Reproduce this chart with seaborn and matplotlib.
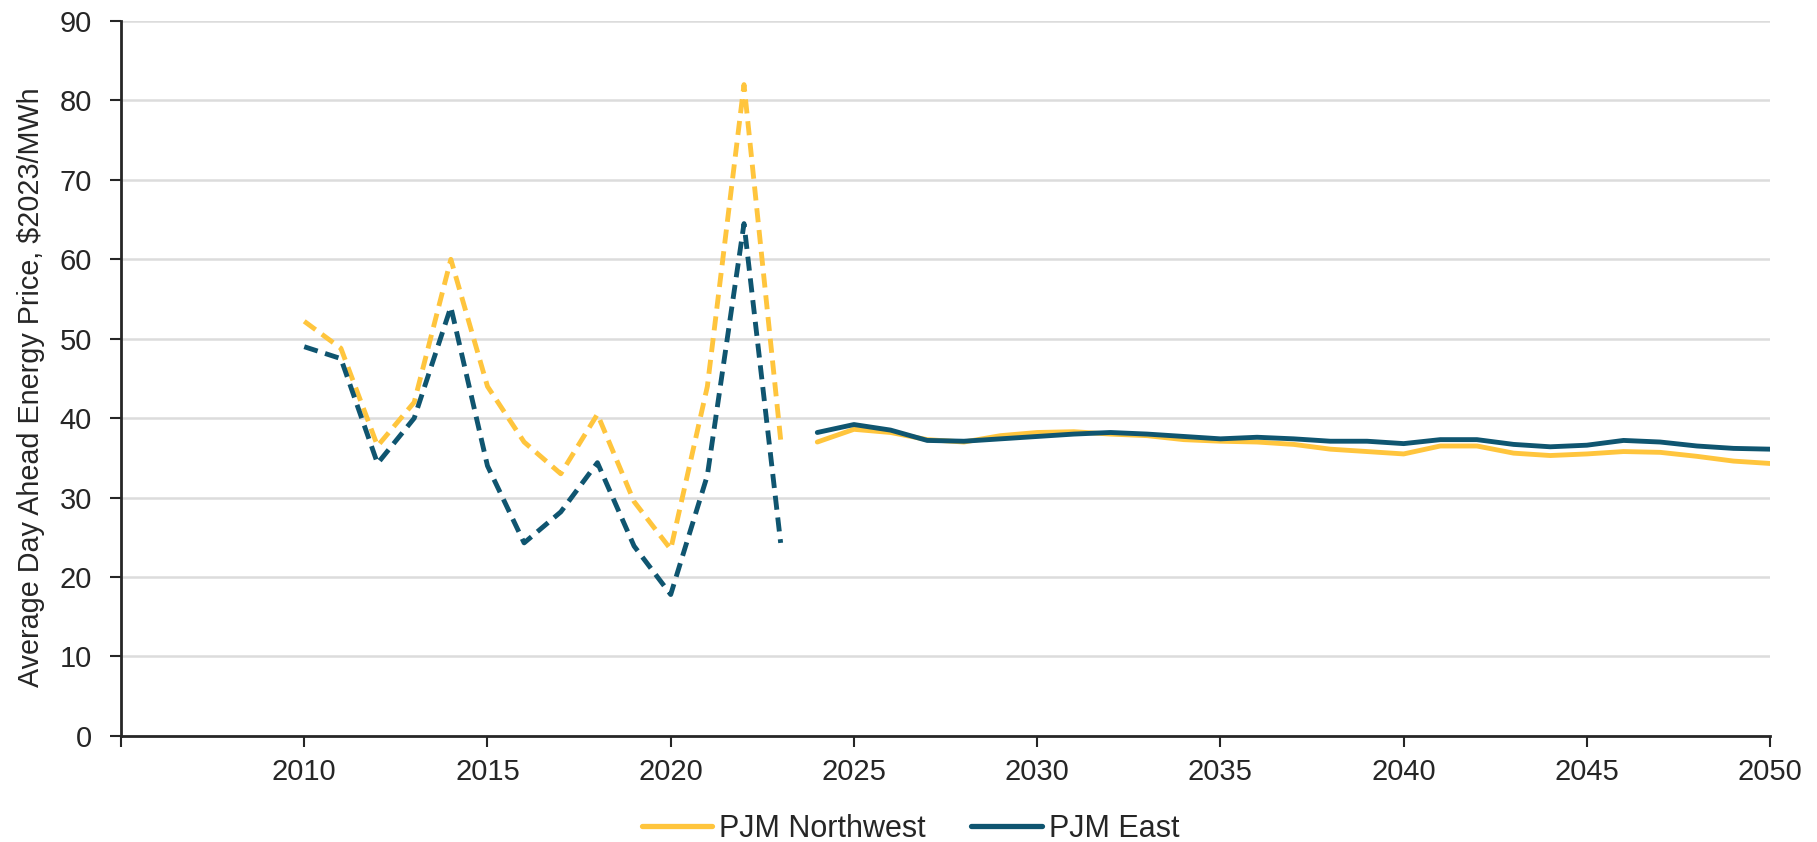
import numpy as np
import pandas as pd
import matplotlib
matplotlib.use("Agg")
import matplotlib.pyplot as plt
from matplotlib.lines import Line2D
import seaborn as sns

hist_years = list(range(2010, 2024))
nw_hist = [52.2, 48.8, 36.5, 42.0, 60.0, 44.0, 37.0, 33.0, 40.5, 29.5, 23.5, 44.0, 82.0, 37.3]
east_hist = [49.0, 47.5, 34.3, 40.0, 54.0, 34.0, 24.3, 28.2, 34.4, 23.9, 17.8, 32.8, 64.5, 24.3]

fc_years = list(range(2024, 2051))
nw_fc = [37.0, 38.6, 38.2, 37.3, 37.0, 37.8, 38.2, 38.3, 38.0, 37.8, 37.3, 37.1, 37.0, 36.7,
         36.1, 35.8, 35.5, 36.5, 36.5, 35.6, 35.3, 35.5, 35.8, 35.7, 35.2, 34.6, 34.3]
east_fc = [38.2, 39.2, 38.5, 37.2, 37.1, 37.4, 37.7, 38.0, 38.2, 38.0, 37.7, 37.4, 37.6, 37.4,
           37.1, 37.1, 36.8, 37.3, 37.3, 36.7, 36.4, 36.6, 37.2, 37.0, 36.5, 36.2, 36.1]

series_names = ["PJM Northwest", "PJM East"]
x_ticks = list(range(2005, 2051, 5))
x_labels = [""] + [str(y) for y in x_ticks[1:]]
y_ticks = list(range(0, 91, 10))

colors = {"PJM Northwest": "#FFC53D", "PJM East": "#0F5570"}

hist = pd.DataFrame({
    "year": hist_years * 2,
    "price": nw_hist + east_hist,
    "region": ["PJM Northwest"] * len(hist_years) + ["PJM East"] * len(hist_years),
})
fc = pd.DataFrame({
    "year": fc_years * 2,
    "price": nw_fc + east_fc,
    "region": ["PJM Northwest"] * len(fc_years) + ["PJM East"] * len(fc_years),
})

sns.set_theme(style="white")
plt.rcParams["font.family"] = ["Liberation Sans", "DejaVu Sans"]

fig = plt.figure(figsize=(18.17, 8.42), dpi=100)
ax = fig.add_axes([0.0666, 0.126, 0.9076, 0.849])

for ylev in y_ticks[1:]:
    ax.axhline(ylev, color="#DCDCDC", lw=1.8, zorder=0)

sns.lineplot(data=hist, x="year", y="price", hue="region", palette=colors,
             hue_order=series_names, ax=ax, legend=False, lw=3.5, zorder=3)
for line in ax.lines[-2:]:
    line.set_dashes([2.9, 1.6])
sns.lineplot(data=fc, x="year", y="price", hue="region", palette=colors,
             hue_order=series_names, ax=ax, legend=False, lw=3.5, zorder=3)

ax.set_xlim(2005, 2050)
ax.set_ylim(0, 90)
ax.set_xticks(x_ticks)
ax.set_xticklabels(x_labels)
ax.set_yticks(y_ticks)
ax.set_xlabel("")
ax.set_ylabel("Average Day Ahead Energy Price, $2023/MWh", fontsize=20.7, color="#262626")
ax.yaxis.set_label_coords(-0.046, 0.488)
ax.tick_params(axis="both", which="major", labelsize=21, length=8, width=1.5,
               direction="out", colors="#262626", bottom=True, left=True)
ax.tick_params(axis="x", pad=8)
ax.tick_params(axis="y", pad=13)
for side in ["top", "right"]:
    ax.spines[side].set_visible(False)
for side in ["left", "bottom"]:
    ax.spines[side].set_color("#262626")
    ax.spines[side].set_linewidth(2.0)
ax.grid(False)

handles = [Line2D([0], [0], color=colors[n], lw=3.8) for n in series_names]
fig.legend(handles, series_names, loc="center", bbox_to_anchor=(0.501, 0.0155),
           ncol=2, frameon=False, fontsize=22, handlelength=2.3, handletextpad=0.23,
           columnspacing=1.5, borderpad=0, borderaxespad=0, labelcolor="#262626")

fig.savefig("out.png", dpi=100, facecolor="white")
